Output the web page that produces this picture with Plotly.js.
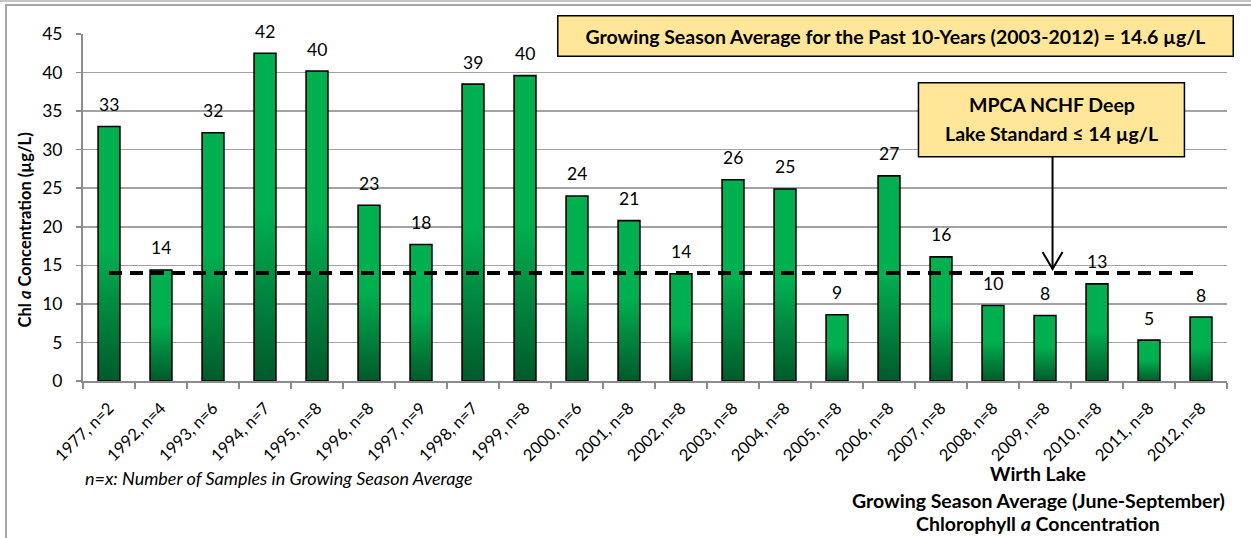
<!DOCTYPE html>
<html>
<head>
<meta charset="utf-8">
<script src="https://cdn.plot.ly/plotly-3.0.1.min.js"></script>
<style>
  html, body { margin: 0; padding: 0; background: #fff; }
  #wrap { position: relative; width: 1251px; height: 538px; overflow: hidden; }
  #chart { position: absolute; left: 0; top: 0; width: 1251px; height: 538px; }
  .frame-top { position: absolute; left: 0; top: 0; width: 1251px; height: 2px; background: #c4c4c4; pointer-events: none; }
  .frame-box { position: absolute; left: 5px; top: 4px; width: 1260px; height: 560px; border-left: 2px solid #a6a6a6; border-top: 2px solid #a6a6a6; pointer-events: none; }
</style>
</head>
<body>
<div id="wrap">
  <div id="chart"></div>
  <div class="frame-top"></div>
  <div class="frame-box"></div>
</div>
<script>
// ---- data ----
const categories = ["1977, n=2","1992, n=4","1993, n=6","1994, n=7","1995, n=8","1996, n=8","1997, n=9",
  "1998, n=7","1999, n=8","2000, n=6","2001, n=8","2002, n=8","2003, n=8","2004, n=8","2005, n=8",
  "2006, n=8","2007, n=8","2008, n=8","2009, n=8","2010, n=8","2011, n=8","2012, n=8"];
const chlValues = [33.0, 14.4, 32.2, 42.5, 40.2, 22.8, 17.7, 38.5, 39.6, 24.0, 20.8, 13.9, 26.1, 24.9,
  8.6, 26.6, 16.1, 9.8, 8.5, 12.6, 5.3, 8.3];
const chlLabels = ["33","14","32","42","40","23","18","39","40","24","21","14","26","25","9","27","16","10","8","13","5","8"];
const standardLine = [14,14,14,14,14,14,14,14,14,14,14,14,14,14,14,14,14,14,14,14,14,14];

const FONT = "Lato, 'Open Sans', sans-serif";

const barTrace = {
  type: "bar",
  x: categories,
  y: chlValues,
  marker: { color: "#00B050", line: { color: "#000", width: 1.6 } },
  hoverinfo: "x+y",
  cliponaxis: false
};
const stdTrace = {
  type: "scatter",
  mode: "lines",
  x: categories,
  y: standardLine,
  line: { color: "#000", width: 4, dash: "13px,8px" },
  hoverinfo: "skip"
};

const labelAnnotations = categories.map((c, i) => ({
  x: c, y: chlValues[i], xref: "x", yref: "y",
  text: chlLabels[i], showarrow: false,
  yanchor: "middle", yshift: 22,
  font: { family: FONT, size: 17.5, color: "#000" }
}));

const layout = {
  width: 1251, height: 538,
  margin: { l: 83, r: 24, t: 34, b: 157, pad: 0 },
  paper_bgcolor: "#fff", plot_bgcolor: "#fff",
  showlegend: false,
  bargap: 0.58,
  font: { family: FONT, color: "#000" },
  xaxis: {
    type: "category",
    range: [-0.5, 21.5],
    tickangle: -45,
    ticks: "outside", tickson: "boundaries", ticklen: 6, tickwidth: 1.5, tickcolor: "#8c8c8c",
    showline: true, linecolor: "#8c8c8c", linewidth: 2,
    showgrid: false,
    ticklabelstandoff: 9,
    tickfont: { family: FONT, size: 16.5, color: "#000" }
  },
  yaxis: {
    range: [0, 45], tick0: 0, dtick: 5,
    showgrid: true, gridcolor: "#a3a3a3", gridwidth: 1.5,
    zeroline: false,
    showline: true, linecolor: "#8c8c8c", linewidth: 2,
    ticks: "outside", ticklen: 5, tickwidth: 1.5, tickcolor: "#8c8c8c",
    tickfont: { family: FONT, size: 17.5, color: "#000" },
    ticklabelstandoff: 10
  },
  shapes: [
    { type: "rect", xref: "paper", yref: "paper", x0: 0.7303, x1: 0.9628, y0: 0.6459, y1: 0.8595,
      fillcolor: "#FFE699", line: { color: "#000", width: 1.5 }, layer: "above" },
    { type: "line", xref: "paper", yref: "paper", x0: 0.8475, x1: 0.8475, y0: 0.6459, y1: 0.3227,
      line: { color: "#000", width: 2 } },
    { type: "path", xref: "paper", yref: "paper",
      path: "M 0.8388,0.3717 L 0.8475,0.3227 L 0.8562,0.3717",
      line: { color: "#000", width: 2 } }
  ],
  annotations: labelAnnotations.concat([
    { xref: "paper", yref: "paper", x: -0.0504, y: 0.435, xanchor: "center", yanchor: "middle", textangle: -90,
      text: "<b>Chl <i>a</i> Concentration (µg/L)</b>", showarrow: false,
      font: { family: FONT, size: 16.5, color: "#000" } },
    { xref: "paper", yref: "paper", x: 0.710, y: 0.995, xanchor: "center", yanchor: "middle",
      text: "<b>Growing Season Average for the Past 10-Years (2003-2012) = 14.6 µg/L</b>",
      showarrow: false, bgcolor: "#FFE699", bordercolor: "#000", borderwidth: 1.5, borderpad: 0,
      width: 674, height: 39, font: { family: FONT, size: 19.5, color: "#000" } },
    { xref: "paper", yref: "paper", x: 0.8466, y: 0.7957, xanchor: "center", yanchor: "middle",
      text: "<b>MPCA NCHF Deep</b>", showarrow: false, font: { family: FONT, size: 19.5, color: "#000" } },
    { xref: "paper", yref: "paper", x: 0.8466, y: 0.7120, xanchor: "center", yanchor: "middle",
      text: "<b>Lake Standard ≤ 14 µg/L</b>", showarrow: false, font: { family: FONT, size: 19.5, color: "#000" } },
    { xref: "paper", yref: "paper", x: 0.0, y: -0.280, xanchor: "left", yanchor: "middle",
      text: "<i>n=x: Number of Samples in Growing Season Average</i>", showarrow: false,
      font: { family: FONT, size: 18, color: "#000" } },
    { xref: "paper", yref: "paper", x: 0.835, y: -0.266, xanchor: "center", yanchor: "middle",
      text: "<b>Wirth Lake</b>", showarrow: false, font: { family: FONT, size: 19.5, color: "#000" } },
    { xref: "paper", yref: "paper", x: 0.835, y: -0.344, xanchor: "center", yanchor: "middle",
      text: "<b>Growing Season Average (June-September)</b>", showarrow: false, font: { family: FONT, size: 19.5, color: "#000" } },
    { xref: "paper", yref: "paper", x: 0.835, y: -0.410, xanchor: "center", yanchor: "middle",
      text: "<b>Chlorophyll <i>a</i> Concentration</b>", showarrow: false, font: { family: FONT, size: 19.5, color: "#000" } }
  ])
};

function applyGradient(gd) {
  const svgNS = "http://www.w3.org/2000/svg";
  const svg = gd.querySelector("svg.main-svg");
  if (!svg) return;
  let defs = svg.querySelector("defs");
  if (!defs) { defs = document.createElementNS(svgNS, "defs"); svg.insertBefore(defs, svg.firstChild); }
  if (!svg.querySelector("#barGrad")) {
    const g = document.createElementNS(svgNS, "linearGradient");
    g.setAttribute("id", "barGrad");
    g.setAttribute("x1", "0"); g.setAttribute("y1", "0");
    g.setAttribute("x2", "0"); g.setAttribute("y2", "1");
    [["0", "#00B050"], ["0.48", "#00B050"], ["1", "#005A2B"]].forEach(s => {
      const st = document.createElementNS(svgNS, "stop");
      st.setAttribute("offset", s[0]); st.setAttribute("stop-color", s[1]);
      g.appendChild(st);
    });
    defs.appendChild(g);
  }
  gd.querySelectorAll(".barlayer .point path").forEach(p => { p.style.fill = "url(#barGrad)"; });
}

Plotly.newPlot("chart", [barTrace, stdTrace], layout, { displayModeBar: false, staticPlot: true })
  .then(gd => { applyGradient(gd); gd.on("plotly_afterplot", () => applyGradient(gd)); });
</script>
</body>
</html>
